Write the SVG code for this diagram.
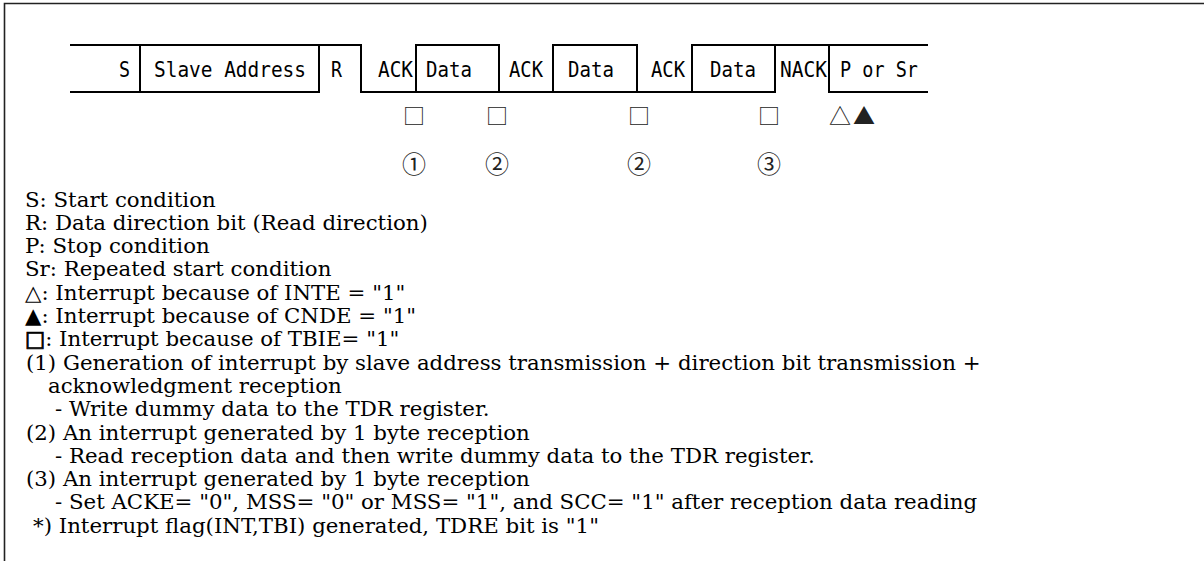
<svg xmlns="http://www.w3.org/2000/svg" width="1204" height="561" viewBox="0 0 1204 561">
<style>
.ln{stroke:#000;stroke-width:2;fill:none;stroke-linecap:square}
.fr{stroke:#222;stroke-width:1.6;fill:none}
.seg{font-family:"DejaVu Sans Mono","Liberation Mono",monospace;font-size:21px;fill:#000}
.sym{font-family:"Noto Sans CJK JP","DejaVu Sans",sans-serif;font-size:22px;fill:#222;text-anchor:middle}
.num{font-family:"Noto Sans CJK JP","DejaVu Serif",serif;font-size:24px;fill:#222;text-anchor:middle}
.lg{font-family:"DejaVu Serif","Noto Sans CJK JP",serif;font-size:21.3px;fill:#000}
.bsq{stroke:#000;stroke-width:0.9}
</style>
<rect width="1204" height="561" fill="#fff"/>
<g id="frame"><path class="fr" d="M4.5,561 V3.5 H1204"/></g>
<g id="connectors">
<path class="ln" d="M71,45 H361 M416,45 H499 M553,45 H637 M692,45 H927"/>
<path class="ln" d="M71,92 H319 M361,92 H775 M829,92 H927"/>
<path class="ln" d="M140,45 V92 M319,45 V92 M361,45 V92 M416,45 V92 M499,45 V92 M553,45 V92 M637,45 V92 M692,45 V92 M775,45 V92 M829,45 V92"/>
</g>
<g id="segments">
<text class="seg" x="119" y="77" textLength="11" lengthAdjust="spacingAndGlyphs">S</text>
<text class="seg" x="154" y="77" textLength="152" lengthAdjust="spacingAndGlyphs">Slave Address</text>
<text class="seg" x="331" y="77" textLength="11" lengthAdjust="spacingAndGlyphs">R</text>
<text class="seg" x="378" y="77" textLength="35" lengthAdjust="spacingAndGlyphs">ACK</text>
<text class="seg" x="426" y="77" textLength="46" lengthAdjust="spacingAndGlyphs">Data</text>
<text class="seg" x="509" y="77" textLength="34" lengthAdjust="spacingAndGlyphs">ACK</text>
<text class="seg" x="568" y="77" textLength="46" lengthAdjust="spacingAndGlyphs">Data</text>
<text class="seg" x="651" y="77" textLength="34" lengthAdjust="spacingAndGlyphs">ACK</text>
<text class="seg" x="710" y="77" textLength="46" lengthAdjust="spacingAndGlyphs">Data</text>
<text class="seg" x="780" y="77" textLength="47" lengthAdjust="spacingAndGlyphs">NACK</text>
<text class="seg" x="840" y="77" textLength="78" lengthAdjust="spacingAndGlyphs">P or Sr</text>
</g>
<g id="interrupts">
<text class="sym" x="414" y="124">□</text>
<text class="sym" x="497" y="124">□</text>
<text class="sym" x="639" y="124">□</text>
<text class="sym" x="769" y="124">□</text>
<text class="sym" x="840" y="124">△</text>
<text class="sym" x="864" y="124">▲</text>
</g>
<g id="steps">
<text class="num" x="414" y="173">①</text>
<text class="num" x="497" y="173">②</text>
<text class="num" x="639" y="173">②</text>
<text class="num" x="769" y="173">③</text>
</g>
<g id="legend">
<text class="lg">
<tspan x="25" y="206.5">S: Start condition</tspan>
<tspan x="25" y="229.8">R: Data direction bit (Read direction)</tspan>
<tspan x="25" y="253.1">P: Stop condition</tspan>
<tspan x="25" y="276.4">Sr: Repeated start condition</tspan>
<tspan x="25" y="299.7">△: Interrupt because of INTE = "1"</tspan>
<tspan x="25" y="323">▲: Interrupt because of CNDE = "1"</tspan>
<tspan x="25" y="346.3"><tspan class="bsq">□</tspan>: Interrupt because of TBIE= "1"</tspan>
<tspan x="26" y="369.6">(1) Generation of interrupt by slave address transmission + direction bit transmission +</tspan>
<tspan x="48" y="392.9">acknowledgment reception</tspan>
<tspan x="55" y="416.2">- Write dummy data to the TDR register.</tspan>
<tspan x="26" y="439.5">(2) An interrupt generated by 1 byte reception</tspan>
<tspan x="55" y="462.8">- Read reception data and then write dummy data to the TDR register.</tspan>
<tspan x="26" y="486.1">(3) An interrupt generated by 1 byte reception</tspan>
<tspan x="55" y="509.4">- Set ACKE= "0", MSS= "0" or MSS= "1", and SCC= "1" after reception data reading</tspan>
<tspan x="33" y="532.7">*) Interrupt flag(INT,TBI) generated, TDRE bit is "1"</tspan>
</text>
</g>
</svg>
